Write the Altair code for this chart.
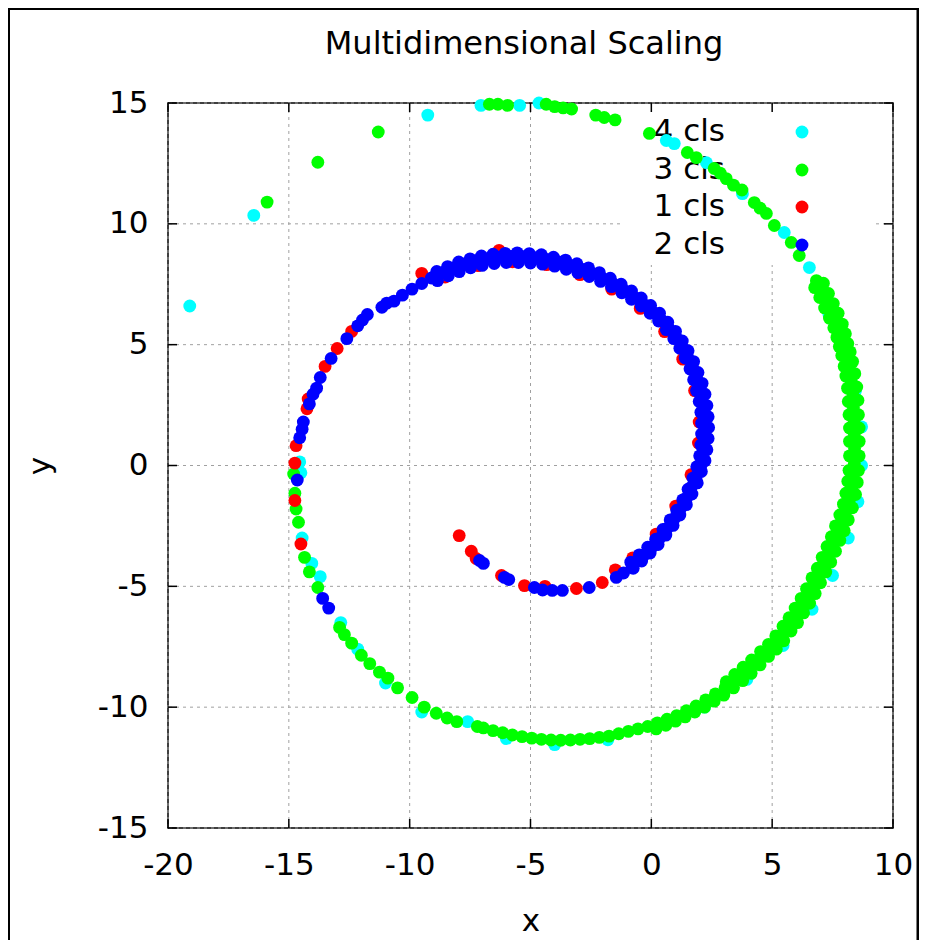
import altair as alt
import pandas as pd

# ---------------- text / ticks ----------------
title_text = "Multidimensional Scaling"
x_title = "x"
y_title = "y"
x_ticks = [-20, -15, -10, -5, 0, 5, 10]
y_ticks = [-15, -10, -5, 0, 5, 10, 15]
classes = ["4 cls", "3 cls", "1 cls", "2 cls"]
colors = ["#00ffff", "#00ff00", "#ff0000", "#0000ff"]

# ---------------- data ----------------
cyan_pts = [
    (-19.1, 6.6), (-16.45, 10.35), (-9.25, 14.5), (-7.05, 14.9), (-5.45, 14.9), (-4.65, 15.0),
    (0.62, 13.45), (0.95, 13.32), (2.28, 12.53), (3.77, 11.25), (5.5, 9.64), (6.54, 8.19),
    (7.35, 6.25), (7.9, 4.85), (8.45, 3.1), (8.7, 1.6), (8.7, 0.0), (8.55, -1.5), (8.15, -3.0),
    (7.5, -4.55), (6.65, -5.95), (5.45, -7.45), (3.95, -8.85), (2.2, -10.0), (0.2, -10.85),
    (-1.8, -11.35), (-4.0, -11.55), (-6.0, -11.3), (-7.6, -10.6), (-9.5, -10.2),
    (-11.0, -9.0), (-12.15, -7.6), (-12.85, -6.5), (-13.7, -4.6), (-14.05, -4.05),
    (-14.45, -3.0), (-14.55, 0.15), (-14.5, -0.3),
]

green_pts = [
    # outer tail and top
    (-15.9, 10.9), (-13.8, 12.55), (-11.3, 13.8),
    (-6.7, 14.95), (-6.35, 14.95), (-5.95, 14.9), (-4.35, 14.95), (-4.0, 14.85), (-3.65, 14.8),
    (-3.3, 14.75), (-2.3, 14.5), (-1.95, 14.4), (-1.5, 14.3), (-0.08, 13.74),
    (1.49, 12.95), (1.86, 12.74), (2.6, 12.29), (2.85, 12.1), (3.1, 11.87), (3.4, 11.6),
    (3.75, 11.4), (4.26, 10.88), (4.5, 10.65), (4.76, 10.43), (5.09, 9.93), (5.79, 9.23),
    (6.12, 8.69), (6.83, 7.65),
    # right / bottom band, centre
    (7.05, 7.25), (7.24, 6.83), (7.45, 6.4), (7.65, 6.0), (7.8, 5.6), (7.9, 5.17), (8.0, 4.8),
    (8.1, 4.46), (8.2, 4.0), (8.27, 3.5), (8.33, 3.0), (8.36, 2.4), (8.39, 1.85), (8.4, 1.3),
    (8.41, 0.7), (8.4, 0.08), (8.35, -0.45), (8.3, -0.9), (8.2, -1.4), (8.05, -1.9), (7.9, -2.35),
    (7.72, -2.8), (7.55, -3.2), (7.35, -3.65), (7.15, -4.1), (6.95, -4.5), (6.72, -4.95),
    (6.5, -5.4), (6.25, -5.8), (6.0, -6.2), (5.75, -6.55), (5.45, -6.95), (5.15, -7.3),
    (4.85, -7.6), (4.5, -7.95), (4.15, -8.3), (3.8, -8.6), (3.45, -8.9), (3.05, -9.2),
    (2.65, -9.45), (2.25, -9.7), (1.85, -9.95), (1.45, -10.15), (1.05, -10.35), (0.65, -10.5),
    (0.25, -10.65), (-0.15, -10.8), (-0.55, -10.9), (-0.95, -11.0), (-1.35, -11.1),
    (-1.75, -11.2), (-2.15, -11.25), (-2.55, -11.3), (-2.95, -11.33), (-3.35, -11.36),
    (-3.75, -11.37), (-4.15, -11.36), (-4.55, -11.33), (-4.95, -11.28), (-5.35, -11.22),
    (-5.75, -11.15), (-6.15, -11.06), (-6.55, -10.97), (-6.95, -10.86), (-7.2, -10.8),
    # right band, outer side
    (7.12, 7.54), (7.33, 7.12), (7.53, 6.7), (7.73, 6.3), (7.9, 5.85), (8.03, 5.45), (8.13, 5.05),
    (8.23, 4.7), (8.33, 4.3), (8.42, 3.8), (8.5, 3.25), (8.55, 2.7), (8.57, 2.1), (8.6, 1.55),
    (8.6, 1.0), (8.6, 0.4), (8.57, -0.2), (8.52, -0.7), (8.45, -1.2), (8.32, -1.75),
    (8.15, -2.25), (7.98, -2.7), (7.8, -3.1), (7.62, -3.55), (7.42, -4.0), (7.22, -4.4),
    (7.0, -4.85), (6.78, -5.3), (6.55, -5.7), (6.3, -6.1), (6.05, -6.5), (5.78, -6.85),
    (5.48, -7.25), (5.17, -7.6), (4.85, -7.9), (4.5, -8.25), (4.13, -8.6), (3.78, -8.9),
    (3.4, -9.2), (3.0, -9.5), (2.6, -9.75), (2.2, -10.0), (1.8, -10.2), (1.4, -10.4),
    (1.0, -10.58), (0.6, -10.75), (0.2, -10.9),
    # right band, inner side
    (6.76, 7.36), (6.97, 6.95), (7.17, 6.52), (7.37, 6.1), (7.55, 5.7), (7.68, 5.3), (7.78, 4.92),
    (7.88, 4.55), (7.98, 4.1), (8.05, 3.7), (8.12, 3.2), (8.15, 2.65), (8.18, 2.1), (8.2, 1.55),
    (8.2, 1.0), (8.2, 0.4), (8.18, -0.2), (8.13, -0.65), (8.05, -1.15), (7.95, -1.6),
    (7.8, -2.05), (7.62, -2.5), (7.45, -2.95), (7.27, -3.35), (7.07, -3.8), (6.87, -4.25),
    (6.65, -4.65), (6.42, -5.1), (6.2, -5.5), (5.95, -5.9), (5.7, -6.3), (5.45, -6.65),
    (5.15, -7.05), (4.85, -7.4), (4.52, -7.7), (4.15, -8.05), (3.8, -8.35), (3.45, -8.65),
    (3.1, -8.95),
    # lower left arc
    (-8.05, -10.6), (-8.45, -10.45), (-8.9, -10.25), (-9.4, -10.0), (-9.9, -9.6), (-10.5, -9.2),
    (-10.9, -8.8), (-11.25, -8.55), (-11.65, -8.2), (-12.0, -7.85), (-12.4, -7.35),
    (-12.7, -7.0), (-12.9, -6.7),
    # left side
    (-14.8, -0.35), (-14.75, -1.15), (-14.7, -1.8), (-14.6, -2.35), (-14.35, -3.8),
    (-14.15, -4.4), (-13.8, -5.05),
]

red_pts = [
    (-7.95, -2.9), (-7.45, -3.55), (-7.25, -3.85), (-6.2, -4.55), (-5.25, -4.97), (-4.4, -5.0),
    (-3.1, -5.09), (-2.03, -4.84),
    (-1.49, -4.32), (-0.77, -3.82), (0.2, -2.84), (1.01, -1.68), (1.64, -0.38), (1.95, 0.93),
    (1.98, 1.8), (1.79, 3.1), (1.3, 4.4), (0.55, 5.54), (-0.46, 6.5), (-1.64, 7.3),
    (-2.95, 7.9), (-4.33, 8.31), (-5.75, 8.43), (-7.17, 8.27), (-8.53, 7.8),
    (-6.3, 8.9), (-9.5, 7.95),
    (-12.4, 5.55), (-13.0, 4.84), (-13.5, 4.1), (-14.2, 2.75), (-14.25, 2.35), (-14.7, 0.82),
    (-14.75, 0.1), (-14.75, -1.45), (-14.5, -3.25),
]

blue_pts = [
    # start and bottom
    (-7.11, -3.93), (-6.95, -4.05), (-6.08, -4.63), (-5.9, -4.72),
    (-4.84, -5.05), (-4.5, -5.15), (-4.1, -5.17), (-3.68, -5.17), (-2.57, -5.05),
    (-1.45, -4.63), (-1.15, -4.45),
    # centre of the inner band
    (-0.8, -4.22), (-0.5, -3.9), (-0.3, -3.7), (0.05, -3.35), (0.35, -3.0), (0.65, -2.6),
    (0.95, -2.2), (1.2, -1.8), (1.45, -1.35), (1.65, -0.9), (1.85, -0.45), (2.05, 0.0),
    (2.1, 0.45), (2.17, 0.9), (2.2, 1.35), (2.2, 1.8), (2.17, 2.25), (2.1, 2.7), (2.0, 3.15),
    (1.87, 3.6), (1.7, 4.05), (1.5, 4.5), (1.27, 4.9), (1.02, 5.3), (0.72, 5.68), (0.4, 6.03),
    (0.05, 6.35), (-0.32, 6.67), (-0.72, 6.97), (-1.12, 7.24), (-1.55, 7.5), (-2.0, 7.73),
    (-2.45, 7.94), (-2.9, 8.12), (-3.38, 8.28), (-3.85, 8.42), (-4.33, 8.53), (-4.82, 8.6),
    (-5.3, 8.64), (-5.8, 8.65), (-6.3, 8.62), (-6.78, 8.56), (-7.26, 8.47), (-7.74, 8.34),
    (-8.2, 8.18), (-8.66, 7.98), (-9.1, 7.76), (-9.5, 7.53), (-9.9, 7.3), (-10.3, 7.05),
    (-10.65, 6.8),
    # outer side of the inner band
    (-0.75, -4.25), (-0.4, -3.95), (-0.05, -3.62), (0.28, -3.27), (0.6, -2.88), (0.9, -2.48),
    (1.18, -2.05), (1.45, -1.62), (1.68, -1.18), (1.9, -0.72), (2.07, -0.25), (2.22, 0.2),
    (2.3, 0.65), (2.35, 1.12), (2.37, 1.57), (2.35, 2.02), (2.3, 2.48), (2.22, 2.95), (2.1, 3.4),
    (1.93, 3.85), (1.75, 4.3), (1.52, 4.75), (1.28, 5.15), (1.0, 5.55), (0.68, 5.93),
    (0.34, 6.3), (-0.03, 6.62), (-0.42, 6.93), (-0.82, 7.22), (-1.25, 7.5), (-1.7, 7.75),
    (-2.15, 7.98), (-2.6, 8.18), (-3.08, 8.35), (-3.55, 8.5), (-4.05, 8.62), (-4.55, 8.72),
    (-5.05, 8.77), (-5.55, 8.8), (-6.05, 8.78), (-6.55, 8.74), (-7.03, 8.67), (-7.5, 8.55),
    (-7.97, 8.42), (-8.43, 8.23), (-8.88, 8.03),
    # inner side of the inner band
    (-0.85, -4.0), (-0.5, -3.7), (-0.15, -3.38), (0.18, -3.05), (0.48, -2.65), (0.78, -2.25),
    (1.05, -1.85), (1.3, -1.42), (1.52, -0.98), (1.72, -0.52), (1.88, -0.05), (2.0, 0.4),
    (2.05, 0.85), (2.08, 1.3), (2.08, 1.75), (2.05, 2.2), (1.98, 2.65), (1.87, 3.1),
    (1.75, 3.55), (1.6, 4.0), (1.4, 4.45), (1.18, 4.85), (0.93, 5.25), (0.62, 5.62),
    (0.3, 5.98), (-0.05, 6.3), (-0.42, 6.6), (-0.82, 6.88), (-1.22, 7.15), (-1.65, 7.4),
    (-2.1, 7.62), (-2.57, 7.82), (-3.04, 7.98), (-3.52, 8.12), (-4.0, 8.25), (-4.5, 8.33),
    (-5.0, 8.38), (-5.5, 8.4), (-6.0, 8.4), (-6.5, 8.36), (-7.0, 8.28), (-7.48, 8.18),
    (-7.95, 8.02), (-8.4, 7.85), (-8.85, 7.65),
    # sparse left part
    (-10.95, 6.72), (-11.15, 6.55), (-11.75, 6.25), (-11.95, 6.02), (-12.15, 5.78),
    (-12.6, 5.25), (-13.25, 4.43), (-13.7, 3.64), (-13.85, 3.2), (-14.0, 2.95), (-14.15, 2.55),
    (-14.4, 1.8), (-14.45, 1.5), (-14.55, 1.15), (-14.65, -0.6), (-13.6, -5.5), (-13.35, -5.9),
]

# ---------------- build ----------------
W = H = 725
FONT = "DejaVu Sans"
FS = 31
PT = 165

rows = []
for name, pts in zip(classes, [cyan_pts, green_pts, red_pts, blue_pts]):
    rows += [{"x": px, "y": py, "cls": name} for px, py in pts]
df = pd.DataFrame(rows)

xs = alt.Scale(domain=[x_ticks[0], x_ticks[-1]], nice=False, zero=False)
ys = alt.Scale(domain=[y_ticks[0], y_ticks[-1]], nice=False, zero=False)
one = pd.DataFrame({"k": [0]})
xt = pd.DataFrame({"x": x_ticks})
yt = pd.DataFrame({"y": y_ticks})

common_axis = dict(grid=False, ticks=False, tickSize=0, domain=False,
                   labelFont=FONT, labelFontSize=FS, labelColor="black",
                   labelFlush=False, labelOverlap=False, labelExpr="'' + datum.value",
                   titleFont=FONT, titleFontSize=FS, titleFontWeight="normal",
                   titleColor="black")
X_AX = alt.Axis(values=x_ticks, labelPadding=22, titlePadding=26, **common_axis)
Y_AX = alt.Axis(values=y_ticks, labelPadding=20, titlePadding=41, **common_axis)


def X(field):
    return alt.X(field, scale=xs, axis=X_AX, title=x_title)


def Y(field):
    return alt.Y(field, scale=ys, axis=Y_AX, title=y_title)


grid_style = dict(color="#a0a0a0", strokeDash=[3, 4], strokeWidth=1)
grid_x = alt.Chart(xt).mark_rule(**grid_style).encode(x=X("x:Q"))
grid_y = alt.Chart(yt).mark_rule(**grid_style).encode(y=Y("y:Q"))

key_bg = alt.Chart(one).mark_rect(color="white").encode(
    x=alt.value(452), x2=alt.value(704), y=alt.value(2), y2=alt.value(162))

key_y = [29, 67, 104, 142]
key_text = [
    alt.Chart(one).mark_text(text=name, align="right", baseline="middle", font=FONT,
                             fontSize=FS, color="black").encode(x=alt.value(557), y=alt.value(yy))
    for name, yy in zip(classes, key_y)
]
key_sym = [
    alt.Chart(one).mark_circle(size=PT, color=col, opacity=1).encode(x=alt.value(634), y=alt.value(yy))
    for col, yy in zip(colors, key_y)
]

points = alt.Chart(df).mark_circle(size=PT, opacity=1).encode(
    x=X("x:Q"),
    y=Y("y:Q"),
    color=alt.Color("cls:N", scale=alt.Scale(domain=classes, range=colors), legend=None),
)

tick_style = dict(color="black", strokeWidth=1.5)
ticks_b = alt.Chart(xt).mark_rule(**tick_style).encode(x=X("x:Q"), y=alt.value(H), y2=alt.value(H - 9))
ticks_t = alt.Chart(xt).mark_rule(**tick_style).encode(x=X("x:Q"), y=alt.value(0), y2=alt.value(9))
ticks_l = alt.Chart(yt).mark_rule(**tick_style).encode(y=Y("y:Q"), x=alt.value(0), x2=alt.value(9))
ticks_r = alt.Chart(yt).mark_rule(**tick_style).encode(y=Y("y:Q"), x=alt.value(W), x2=alt.value(W - 9))

title_mark = alt.Chart(one).mark_text(text=title_text, align="center", baseline="middle",
                                      font=FONT, fontSize=32, color="black").encode(
    x=alt.value(356), y=alt.value(-59))

frame = alt.Chart(one).mark_rect(fillOpacity=0, stroke="black", strokeWidth=3).encode(
    x=alt.value(-159.5), x2=alt.value(750), y=alt.value(-94.5), y2=alt.value(900))

chart = alt.layer(
    grid_x, grid_y, key_bg, *key_text, points, *key_sym,
    ticks_b, ticks_t, ticks_l, ticks_r, title_mark, frame,
).properties(
    width=W, height=H,
    padding={"left": 160, "top": 95, "right": 26, "bottom": 112},
    autosize=alt.AutoSizeParams(type="none"),
).configure_view(stroke="black", strokeWidth=1.5)

chart.save("out.html", embed_options={"renderer": "svg", "actions": False})
